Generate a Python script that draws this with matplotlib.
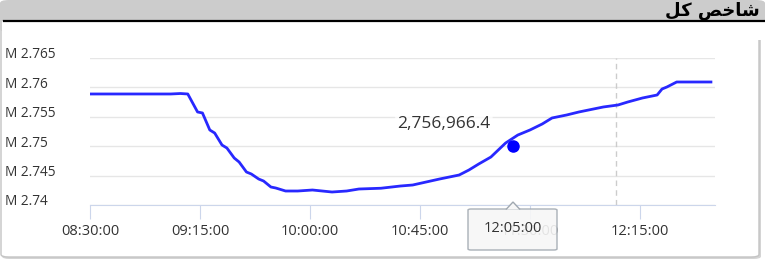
import matplotlib
matplotlib.use("Agg")
import matplotlib.pyplot as plt
import matplotlib.dates as mdates
from matplotlib.patches import FancyBboxPatch, Polygon, Rectangle
import pandas as pd

# data
times = ["08:30", "09:03", "09:07", "09:10", "09:14", "09:16", "09:19", "09:21",
         "09:24", "09:26", "09:29", "09:31", "09:34", "09:36", "09:39", "09:41",
         "09:44", "09:46", "09:50", "09:55", "10:01", "10:05", "10:09", "10:15",
         "10:20", "10:29", "10:37", "10:42", "10:53", "11:01", "11:05", "11:09",
         "11:14", "11:17", "11:20", "11:25", "11:30", "11:35", "11:39", "11:45",
         "11:50", "12:00", "12:06", "12:10", "12:16", "12:22", "12:24", "12:26",
         "12:30", "12:44"]
values = [2.75888, 2.75888, 2.75896, 2.75888, 2.75582, 2.75565, 2.75276, 2.75224,
          2.75020, 2.74969, 2.74799, 2.74731, 2.74561, 2.74527, 2.74442, 2.74408,
          2.74306, 2.74289, 2.74238, 2.74238, 2.74255, 2.74238, 2.74221, 2.74238,
          2.74272, 2.74285, 2.74323, 2.74340, 2.74442, 2.74510, 2.74595, 2.74697,
          2.74816, 2.74935, 2.75054, 2.75190, 2.75276, 2.75378, 2.75480, 2.75531,
          2.75582, 2.75667, 2.75701, 2.75752, 2.75820, 2.75871, 2.75973, 2.76007,
          2.76092, 2.76092]
y_ticks = [2.74, 2.745, 2.75, 2.755, 2.76, 2.765]
y_labels = ["M 2.74", "M 2.745", "M 2.75", "M 2.755", "M 2.76", "M 2.765"]
x_ticks = ["08:30:00", "09:15:00", "10:00:00", "10:45:00", "11:30:00", "12:15:00"]

hover_time = "12:05:00"
marker_time, marker_value = "11:23", 2.7500
marker_text = "2,756,966.4"

# title "شاخص کل" written in presentation forms, visual order (no shaping in matplotlib)
title = "\uFEDE\uFB90 \uFEBA\uFEA7\uFE8E\uFEB7"

day = "2024-01-01 "
t = pd.to_datetime([day + s for s in times])

W, H = 765.0, 261.0


def box_px(x0, y0, x1, y1):
    # pixel box (top-left origin) -> figure fraction (x, y, w, h)
    return x0 / W, 1 - y1 / H, (x1 - x0) / W, (y1 - y0) / H


fig = plt.figure(figsize=(7.65, 2.61), dpi=100)
fig.patch.set_facecolor("white")

# panel frame and grey header
x, y, w, h = box_px(2, 3, 761, 259)
fig.add_artist(FancyBboxPatch((x, y), w, h, boxstyle="round,pad=0,rounding_size=0.01",
                              transform=fig.transFigure, facecolor="#d4d4d4",
                              edgecolor="none", zorder=0.05))
x, y, w, h = box_px(1, 2, 759, 257)
fig.add_artist(FancyBboxPatch((x, y), w, h, boxstyle="round,pad=0,rounding_size=0.01",
                              transform=fig.transFigure, facecolor="white",
                              edgecolor="#c4c4c4", linewidth=1, zorder=0.1))
x, y, w, h = box_px(0, 0, 765, 32)
fig.add_artist(FancyBboxPatch((x, y), w, h, boxstyle="round,pad=0,rounding_size=0.012",
                              transform=fig.transFigure, facecolor="#cccccc",
                              edgecolor="none", zorder=0.2))
x, y, w, h = box_px(2, 21, 758, 40)
fig.add_artist(Rectangle((x, y), w, h, transform=fig.transFigure, facecolor="white",
                         edgecolor="none", zorder=0.3))
x, y, w, h = box_px(758, 21, 765, 40)
fig.add_artist(Rectangle((x, y), w, h, transform=fig.transFigure, facecolor="white",
                         edgecolor="none", zorder=0.25))
fig.add_artist(plt.Line2D([4 / W, 1], [1 - 20.5 / H, 1 - 20.5 / H],
                          transform=fig.transFigure, color="black", lw=1.6, zorder=0.4))
fig.text(760 / W, 1 - 11 / H, title, ha="right", va="center", fontsize=13,
         fontweight="bold", family="DejaVu Sans", color="black", zorder=0.5)

ax = fig.add_axes([90 / W, 1 - 205 / H, 625 / W, 147 / H])
ax.set_zorder(1)
ax.set_facecolor("none")
ax.plot(t, values, color="#2828ff", lw=2, solid_joinstyle="round", zorder=3)

ax.set_ylim(2.74, 2.765)
ax.set_xlim(pd.Timestamp(day + "08:30"), pd.Timestamp(day + "12:45:40"))
ax.set_yticks(y_ticks)
ax.set_yticklabels([])
ax.grid(axis="y", color="#e6e6e6", lw=1)
ax.set_xticks(pd.to_datetime([day + s for s in x_ticks]))
ax.xaxis.set_major_formatter(mdates.DateFormatter("%H:%M:%S"))
ax.tick_params(axis="x", length=10, color="#ccd6eb", labelsize=10.5,
               labelcolor="#333333", pad=4)
ax.tick_params(axis="y", length=0)
for s in ["top", "right", "left"]:
    ax.spines[s].set_visible(False)
ax.spines["bottom"].set_color("#ccd6eb")
for lab in ax.get_xticklabels():
    lab.set_family("Open Sans")

# y labels sit at the left edge of the panel
for v, lab in zip(y_ticks, y_labels):
    ax.annotate(lab, xy=(0, v), xycoords=("figure fraction", "data"),
                xytext=(5, 3), textcoords="offset pixels", ha="left", va="center",
                fontsize=9.8, color="#333333", family="Open Sans")

# crosshair
ax.axvline(pd.Timestamp(day + hover_time), color="#cccccc", lw=1, ls=(0, (4, 3)), zorder=2)

# marker and its label
mt = pd.Timestamp(day + marker_time)
ax.plot([mt], [marker_value], "o", color="#0000ff", ms=8, zorder=4)
ax.annotate(marker_text, xy=(mt, marker_value), xytext=(-69, 22),
            textcoords="offset pixels", ha="center", va="center", fontsize=12.5,
            color="#333333", family="Open Sans",
            bbox=dict(boxstyle="round,pad=0.12", fc="white", ec="none", alpha=0.8))

# tooltip box under the axis
tx = 513 / W
x, y, w, h = box_px(468, 209, 557, 250)
fig.add_artist(FancyBboxPatch((x, y), w, h, boxstyle="round,pad=0,rounding_size=0.004",
                              transform=fig.transFigure, facecolor="#f7f7f7",
                              edgecolor="#a0a8b0", linewidth=1, alpha=0.9, zorder=5))
fig.add_artist(Polygon([(tx - 7 / W, 1 - 209.5 / H), (tx, 1 - 202 / H), (tx + 7 / W, 1 - 209.5 / H)],
                       closed=False, transform=fig.transFigure, facecolor="#f7f7f7",
                       edgecolor="#a0a8b0", linewidth=1, zorder=5.1))
fig.text(tx, 1 - 229 / H, hover_time, ha="center", va="center", fontsize=10.5,
         color="#333333", family="Open Sans", zorder=6)

fig.savefig("out.png", dpi=100)
